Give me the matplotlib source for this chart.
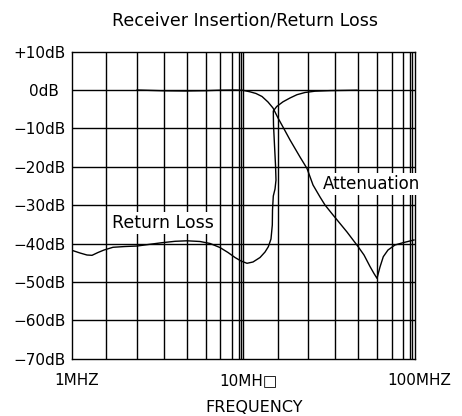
import matplotlib
matplotlib.use("Agg")
import matplotlib.pyplot as plt
from matplotlib.ticker import FixedLocator, NullLocator
from matplotlib.transforms import ScaledTranslation

# ---- data (MHz, dB) ----
ins_freq = [2.40, 2.85, 3.40, 4.57, 5.98, 7.31, 8.95, 9.97, 10.95, 11.87, 12.87,
            13.95, 14.92, 15.96, 17.53, 18.75, 21.45, 23.57, 25.55, 28.07, 30.02,
            33.43, 40.35, 46.79, 50.72, 54.97, 58.0, 60.39, 62.88, 65.73, 70.01,
            76.93, 85.66, 99.3]
ins_db = [0.0, -0.1, -0.2, -0.26, -0.18, -0.05, 0.0, -0.08, -0.47, -0.91, -1.69,
          -3.13, -4.69, -7.29, -10.6, -13.0, -17.45, -20.44, -24.74, -27.86, -29.95,
          -32.55, -36.98, -40.76, -42.97, -45.96, -47.79, -49.04, -46.09, -43.41, -41.67,
          -40.36, -39.77, -39.06]

ret_freq = [1.007, 1.114, 1.223, 1.309, 1.418, 1.538, 1.735, 2.04, 2.40, 2.85, 3.35,
            4.00, 4.69, 5.59, 6.40, 7.31, 8.15, 8.95, 9.70, 10.52, 11.40, 12.53, 13.40,
            14.01, 14.52, 14.78, 14.82, 14.98, 15.33, 15.53, 15.43, 15.22, 15.02, 14.98,
            15.68, 17.07, 18.75, 20.60, 22.94, 26.24, 32.11, 39.29, 46.15]
ret_db = [-41.80, -42.45, -42.97, -43.05, -42.32, -41.67, -40.96, -40.76, -40.63, -40.18,
          -39.77, -39.40, -39.27, -39.45, -39.97, -41.02, -42.32, -43.62, -44.53, -45.13,
          -44.79, -43.62, -42.19, -40.81, -38.80, -35.16, -31.25, -27.60, -25.78, -23.44,
          -19.53, -14.32, -9.11, -5.47, -4.30, -3.07, -2.08, -1.22, -0.65, -0.31, -0.16,
          -0.10, -0.05]

x_ticks = [1, 10, 100]
x_labels = ["1MHZ", "10MH\u25A1", "100MHZ"]
y_ticks = [10, 0, -10, -20, -30, -40, -50, -60, -70]
y_labels = ["+10dB", "0dB", "\u221210dB", "\u221220dB", "\u221230dB", "\u221240dB",
            "\u221250dB", "\u221260dB", "\u221270dB"]
# vertical grid positions within each decade (as drawn)
grid_mult = [1.59, 2.39, 3.43, 4.67, 6.04, 7.35, 8.55, 9.40, 9.73]
decades = [1, 10]

title = "Receiver Insertion/Return Loss"
xlabel = "FREQUENCY"

# ---- figure ----
W, H = 462, 416
fig = plt.figure(figsize=(W / 100, H / 100), dpi=100)
left, right = 72 / W, 414.5 / W
bottom, top = 1 - 358.8 / H, 1 - 51.6 / H
ax = fig.add_axes([left, bottom, right - left, top - bottom])
ax.set_xscale("log")
ax.set_xlim(1, 100)
ax.set_ylim(-70, 10)

gc = "#000000"
for d in decades:
    for m in grid_mult:
        ax.axvline(d * m, color=gc, lw=1.0, zorder=1)
ax.axvline(10, color=gc, lw=1.0, zorder=1)
for yv in y_ticks[1:-1]:
    ax.axhline(yv, color=gc, lw=1.0, zorder=1)

ax.plot(ins_freq, ins_db, color="black", lw=1.0, zorder=3)
ax.plot(ret_freq, ret_db, color="black", lw=1.0, zorder=3)

ax.text(1.706, -34.6, "Return Loss", fontsize=12.5, ha="left", va="center", zorder=4,
        bbox=dict(facecolor="white", edgecolor="none", pad=1.5))
ax.text(29.2, -24.5, "Attenuation", fontsize=12, ha="left", va="center", zorder=4,
        clip_on=False, bbox=dict(facecolor="white", edgecolor="none", pad=1.5))

for s in ax.spines.values():
    s.set_color(gc)
    s.set_linewidth(1.0)

ax.xaxis.set_major_locator(FixedLocator(x_ticks))
ax.xaxis.set_minor_locator(NullLocator())
ax.set_xticklabels(x_labels)
ax.yaxis.set_major_locator(FixedLocator(y_ticks))
ax.set_yticklabels(y_labels)
ax.tick_params(axis="x", length=0, pad=10, labelsize=11)
ax.tick_params(axis="y", length=0, pad=59 * 0.72, labelsize=11)
off = ScaledTranslation(5 / 100, 0, fig.dpi_scale_trans)
for lbl in ax.get_xticklabels():
    lbl.set_transform(lbl.get_transform() + off)
for i, lbl in enumerate(ax.get_yticklabels()):
    lbl.set_ha("left")
    if y_labels[i] == "0dB":
        lbl.set_x(16 / 342.5)

ax.set_xlabel(xlabel, fontsize=11.5)
ax.xaxis.label.set_va("center")
ax.xaxis.set_label_coords((253.7 - 72) / 342.5, (358.8 - 407) / 307.2)

fig.text(245 / W, 1 - 20.5 / H, title, fontsize=12.5, ha="center", va="center")

fig.savefig("out.png", dpi=100)
